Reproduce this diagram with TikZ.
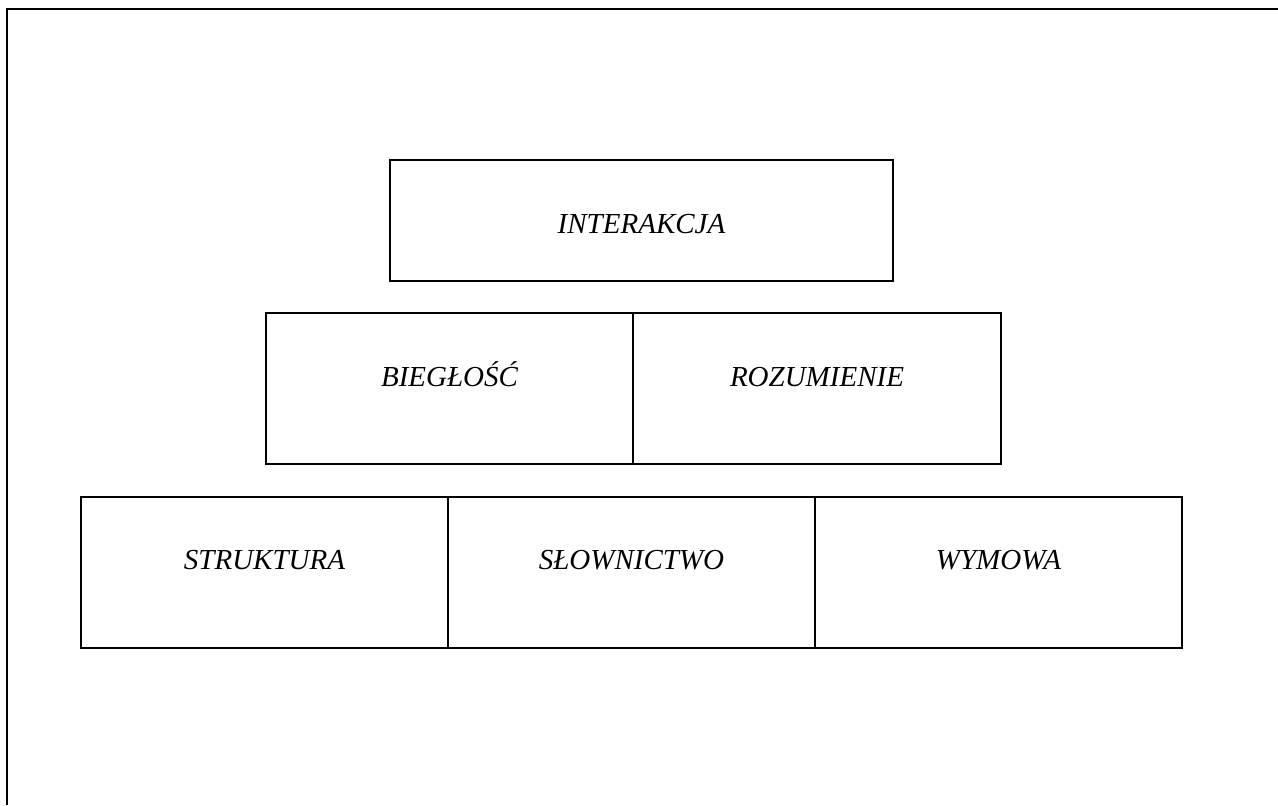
\documentclass[tikz,border=0pt]{standalone}
\usepackage{fontspec}
\setmainfont{Liberation Serif}
\begin{document}
\begin{tikzpicture}[x=0.5pt,y=-0.5pt,
  cell/.style={draw=black, line width=1pt, rectangle, inner sep=0pt, outer sep=0pt},
  lbl/.style={anchor=base, inner sep=0pt, font=\fontsize{14.5pt}{17pt}\selectfont\itshape}]
\useasboundingbox (0,0) rectangle (1278,805);
\coordinate (fTR) at (1278,9);
\coordinate (fTL) at (6.5,9);
\coordinate (fBL) at (6.5,805);
\draw[line width=1pt] (fTR) -- (fTL) -- (fBL);
% row 1
\node[cell, minimum width=251.5pt, minimum height=60.5pt] (b1) at (641.5,220) {};
\node[lbl] (t1) at (641.5,233) {INTERAKCJA};
% row 2
\node[cell, minimum width=183.5pt, minimum height=75.5pt] (b2) at (449.5,388.5) {};
\node[cell, minimum width=184pt, minimum height=75.5pt] (b3) at (817,388.5) {};
\node[lbl] (t2) at (449.5,386) {BIEGŁOŚĆ};
\node[lbl] (t3) at (817,386) {ROZUMIENIE};
% row 3
\node[cell, minimum width=183.5pt, minimum height=75.5pt] (b4) at (264.5,572.5) {};
\node[cell, minimum width=183.5pt, minimum height=75.5pt] (b5) at (631.5,572.5) {};
\node[cell, minimum width=183.5pt, minimum height=75.5pt] (b6) at (998.5,572.5) {};
\node[lbl] (t4) at (264.5,569) {STRUKTURA};
\node[lbl] (t5) at (631.5,569) {SŁOWNICTWO};
\node[lbl] (t6) at (998.5,569) {WYMOWA};
\end{tikzpicture}
\end{document}
